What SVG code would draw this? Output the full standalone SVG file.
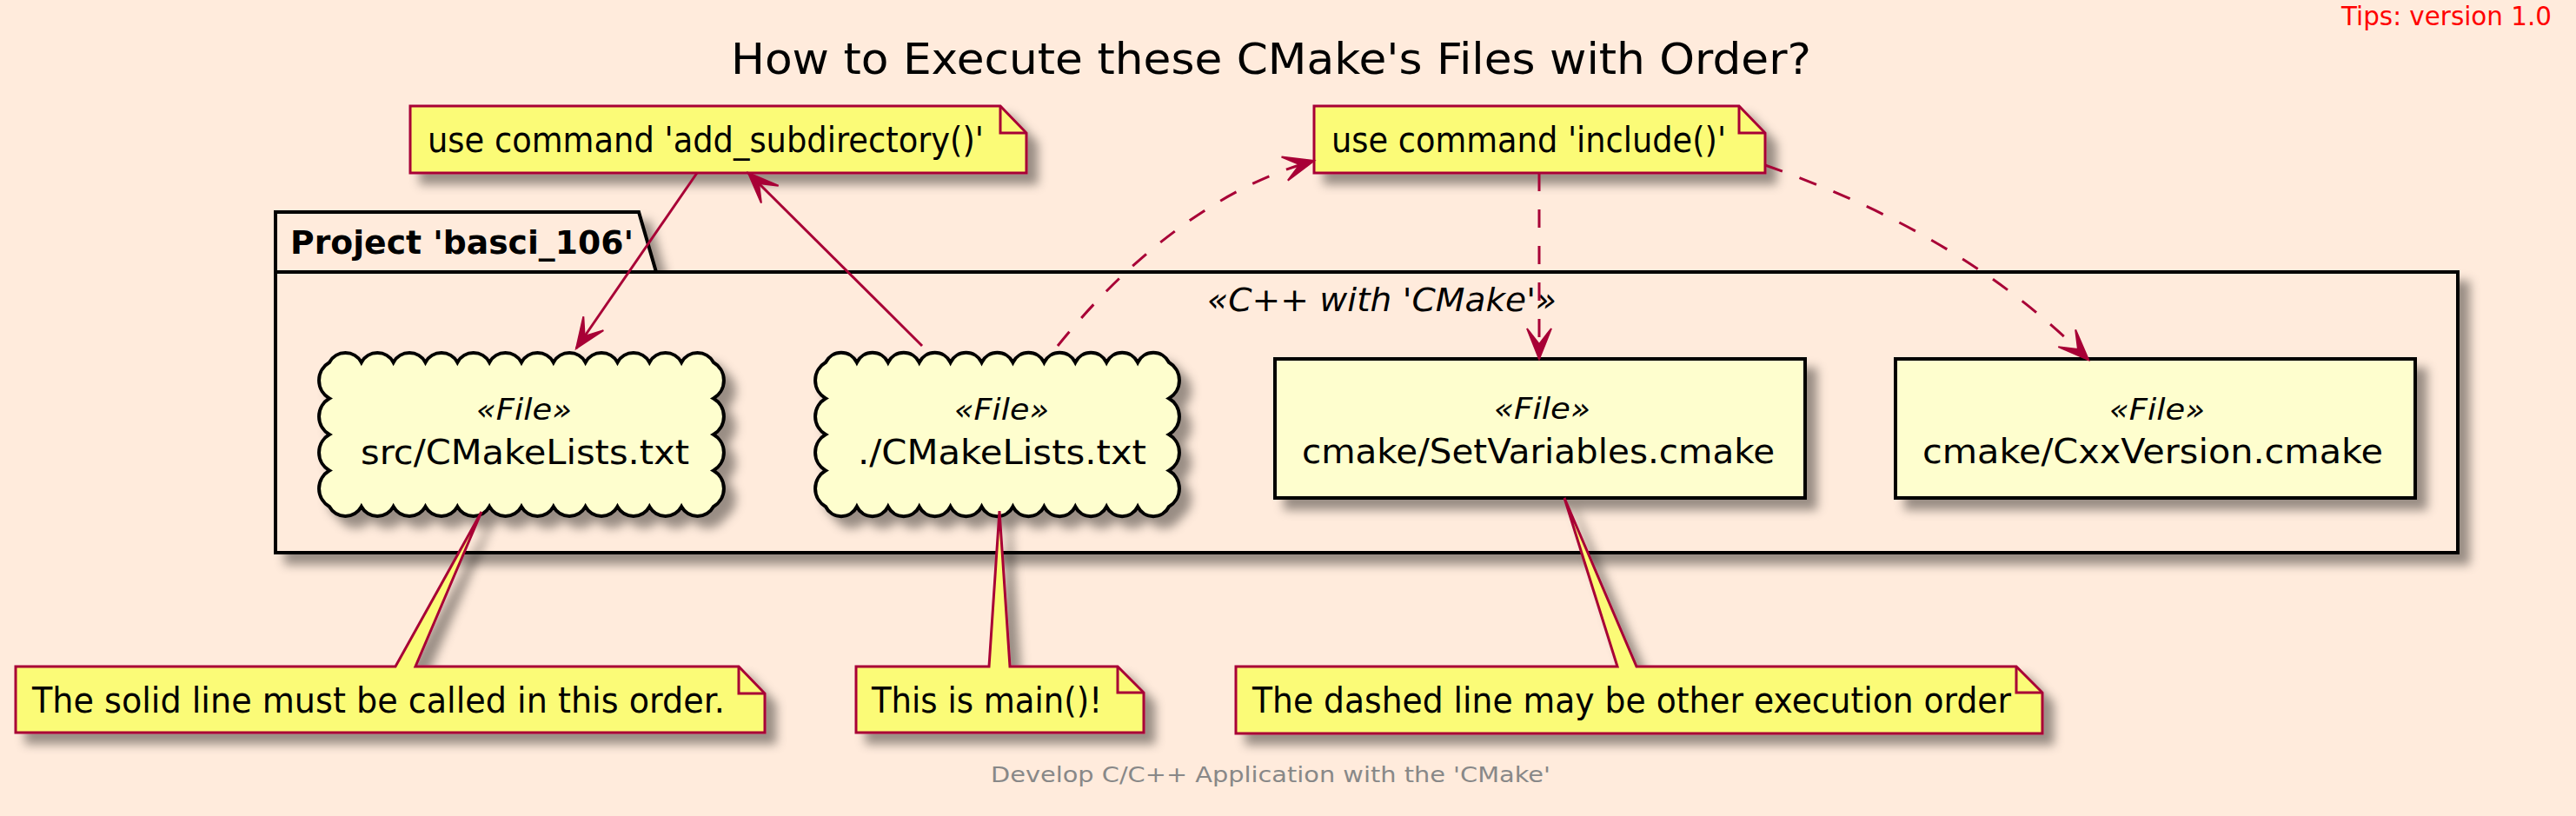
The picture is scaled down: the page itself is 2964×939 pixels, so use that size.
<svg xmlns="http://www.w3.org/2000/svg" width="2964" height="939" viewBox="0 0 2964 939">
<style>
text{font-family:"DejaVu Sans","Liberation Sans",sans-serif;fill:#000}
.ttl{font-size:50px}
.tips{font-size:30px;fill:#FF0000}
.foot{font-size:25px;fill:#888888}
.pkgt{font-size:38px;font-weight:bold}
.st{font-size:38px;font-style:italic}
.fst{font-size:33px;font-style:italic}
.nt{font-size:39px}
.notet{font-size:40px}
.pkg{fill:#FFEBDC;stroke:#000;stroke-width:4}
.node{fill:#FEFECE;stroke:#000;stroke-width:4}
.note{fill:#FBFB77;stroke:#A80036;stroke-width:3;stroke-linejoin:miter}
.fold{fill:none;stroke:#A80036;stroke-width:3}
.conn{fill:none;stroke:#A80036;stroke-width:3}
.dash{stroke-dasharray:21 21}
</style>
<defs>
<filter id="sh" x="-20%" y="-30%" width="150%" height="180%">
<feGaussianBlur in="SourceAlpha" stdDeviation="6" result="b"/>
<feColorMatrix in="b" type="matrix" values="0 0 0 0 0 0 0 0 0 0 0 0 0 0 0 0 0 0 .4 0" result="b2"/>
<feOffset in="b2" dx="12" dy="12" result="b3"/>
<feBlend in="SourceGraphic" in2="b3" mode="normal"/>
</filter>
<marker id="ah" markerUnits="userSpaceOnUse" markerWidth="40" markerHeight="32" viewBox="-37 -16 40 32" refX="0" refY="0" orient="auto" overflow="visible">
<path d="M0,0 L-35,-14 L-17,0 L-35,14 Z" fill="#A80036" stroke="#A80036" stroke-width="2" stroke-dasharray="none"/>
</marker>
</defs>
<rect x="0" y="0" width="2964" height="939" fill="#FFEBDC"/>
<g id="header">
<text class="tips" x="2694" y="29" textLength="242" lengthAdjust="spacingAndGlyphs">Tips: version 1.0</text>
<text class="ttl" x="841" y="85" textLength="1243" lengthAdjust="spacingAndGlyphs">How to Execute these CMake's Files with Order?</text>
</g>
<g id="footer">
<text class="foot" x="1140" y="900" textLength="644" lengthAdjust="spacingAndGlyphs">Develop C/C++ Application with the 'CMake'</text>
</g>
<g id="package">
<path class="pkg" filter="url(#sh)" d="M317,244 L735,244 L755,313 L2828,313 L2828,636 L317,636 Z"/>
<path fill="none" stroke="#000" stroke-width="4" d="M317,313 L755,313"/>
<text class="pkgt" x="334" y="292" textLength="395" lengthAdjust="spacingAndGlyphs">Project 'basci_106'</text>
<text class="st" x="1389" y="358" textLength="402" lengthAdjust="spacingAndGlyphs">«C++ with 'CMake'»</text>
</g>
<g id="node-src-cmakelists">
<path class="node" filter="url(#sh)" d="M379,417 a21,21 0 0 1 36.83,0 a21,21 0 0 1 36.83,0 a21,21 0 0 1 36.83,0 a21,21 0 0 1 36.83,0 a21,21 0 0 1 36.83,0 a21,21 0 0 1 36.83,0 a21,21 0 0 1 36.83,0 a21,21 0 0 1 36.83,0 a21,21 0 0 1 36.83,0 a21,21 0 0 1 36.83,0 a21,21 0 0 1 36.83,0 a21,21 0 0 1 36.83,0 a24,24 0 0 1 0,41.5 a24,24 0 0 1 0,41.5 a24,24 0 0 1 0,41.5 a24,24 0 0 1 0,41.5 a21,21 0 0 1 -36.83,0 a21,21 0 0 1 -36.83,0 a21,21 0 0 1 -36.83,0 a21,21 0 0 1 -36.83,0 a21,21 0 0 1 -36.83,0 a21,21 0 0 1 -36.83,0 a21,21 0 0 1 -36.83,0 a21,21 0 0 1 -36.83,0 a21,21 0 0 1 -36.83,0 a21,21 0 0 1 -36.83,0 a21,21 0 0 1 -36.83,0 a21,21 0 0 1 -36.83,0 a24,24 0 0 1 0,-41.5 a24,24 0 0 1 0,-41.5 a24,24 0 0 1 0,-41.5 a24,24 0 0 1 0,-41.5 Z"/>
<text class="fst" x="548" y="483" textLength="110" lengthAdjust="spacingAndGlyphs">«File»</text>
<text class="nt" x="415" y="534" textLength="378" lengthAdjust="spacingAndGlyphs">src/CMakeLists.txt</text>
</g>
<g id="node-root-cmakelists">
<path class="node" filter="url(#sh)" d="M950,417 a20,20 0 0 1 35.91,0 a20,20 0 0 1 35.91,0 a20,20 0 0 1 35.91,0 a20,20 0 0 1 35.91,0 a20,20 0 0 1 35.91,0 a20,20 0 0 1 35.91,0 a20,20 0 0 1 35.91,0 a20,20 0 0 1 35.91,0 a20,20 0 0 1 35.91,0 a20,20 0 0 1 35.91,0 a20,20 0 0 1 35.91,0 a24,24 0 0 1 0,41.5 a24,24 0 0 1 0,41.5 a24,24 0 0 1 0,41.5 a24,24 0 0 1 0,41.5 a20,20 0 0 1 -35.91,0 a20,20 0 0 1 -35.91,0 a20,20 0 0 1 -35.91,0 a20,20 0 0 1 -35.91,0 a20,20 0 0 1 -35.91,0 a20,20 0 0 1 -35.91,0 a20,20 0 0 1 -35.91,0 a20,20 0 0 1 -35.91,0 a20,20 0 0 1 -35.91,0 a20,20 0 0 1 -35.91,0 a20,20 0 0 1 -35.91,0 a24,24 0 0 1 0,-41.5 a24,24 0 0 1 0,-41.5 a24,24 0 0 1 0,-41.5 a24,24 0 0 1 0,-41.5 Z"/>
<text class="fst" x="1098" y="483" textLength="109" lengthAdjust="spacingAndGlyphs">«File»</text>
<text class="nt" x="987" y="534" textLength="332" lengthAdjust="spacingAndGlyphs">./CMakeLists.txt</text>
</g>
<g id="node-setvariables">
<rect class="node" filter="url(#sh)" x="1467" y="413" width="610" height="160"/>
<text class="fst" x="1719" y="482" textLength="111" lengthAdjust="spacingAndGlyphs">«File»</text>
<text class="nt" x="1498" y="533" textLength="544" lengthAdjust="spacingAndGlyphs">cmake/SetVariables.cmake</text>
</g>
<g id="node-cxxversion">
<rect class="node" filter="url(#sh)" x="2181" y="413" width="598" height="160"/>
<text class="fst" x="2427" y="483" textLength="110" lengthAdjust="spacingAndGlyphs">«File»</text>
<text class="nt" x="2212" y="533" textLength="530" lengthAdjust="spacingAndGlyphs">cmake/CxxVersion.cmake</text>
</g>
<g id="note-add-subdirectory">
<path class="note" filter="url(#sh)" d="M472,122 L1151,122 L1181,153 L1181,199 L472,199 Z"/>
<path class="fold" d="M1151,122 L1151,153 L1181,153"/>
<text class="notet" x="492" y="175" textLength="640" lengthAdjust="spacingAndGlyphs">use command 'add_subdirectory()'</text>
</g>
<g id="note-include">
<path class="note" filter="url(#sh)" d="M1512,122 L2001,122 L2031,153 L2031,199 L1512,199 Z"/>
<path class="fold" d="M2001,122 L2001,153 L2031,153"/>
<text class="notet" x="1532" y="175" textLength="454" lengthAdjust="spacingAndGlyphs">use command 'include()'</text>
</g>
<g id="note-solid-line">
<path class="note" filter="url(#sh)" d="M18,767 L455,767 L554,589 L478,767 L850,767 L880,798 L880,843 L18,843 Z"/>
<path class="fold" d="M850,767 L850,798 L880,798"/>
<text class="notet" x="37" y="820" textLength="797" lengthAdjust="spacingAndGlyphs">The solid line must be called in this order.</text>
</g>
<g id="note-main">
<path class="note" filter="url(#sh)" d="M985,767 L1138,767 L1150,588 L1162,767 L1286,767 L1316,797 L1316,843 L985,843 Z"/>
<path class="fold" d="M1286,767 L1286,797 L1316,797"/>
<text class="notet" x="1003" y="820" textLength="265" lengthAdjust="spacingAndGlyphs">This is main()!</text>
</g>
<g id="note-dashed-line">
<path class="note" filter="url(#sh)" d="M1422,767 L1861,767 L1800,573 L1883,767 L2320,767 L2350,797 L2350,844 L1422,844 Z"/>
<path class="fold" d="M2320,767 L2320,797 L2350,797"/>
<text class="notet" x="1441" y="820" textLength="873" lengthAdjust="spacingAndGlyphs">The dashed line may be other execution order</text>
</g>
<g id="connectors">
<path class="conn" marker-end="url(#ah)" d="M802,199 L663,401"/>
<path class="conn" marker-end="url(#ah)" d="M1061,398 L861,199"/>
<path class="conn dash" marker-end="url(#ah)" d="M1217,398 C1311.5,281 1415.5,211 1512,185"/>
<path class="conn dash" marker-end="url(#ah)" d="M1771,199 L1771,413"/>
<path class="conn dash" marker-end="url(#ah)" d="M2031,190 C2173,240 2297,308 2403,414"/>
</g>
</svg>
